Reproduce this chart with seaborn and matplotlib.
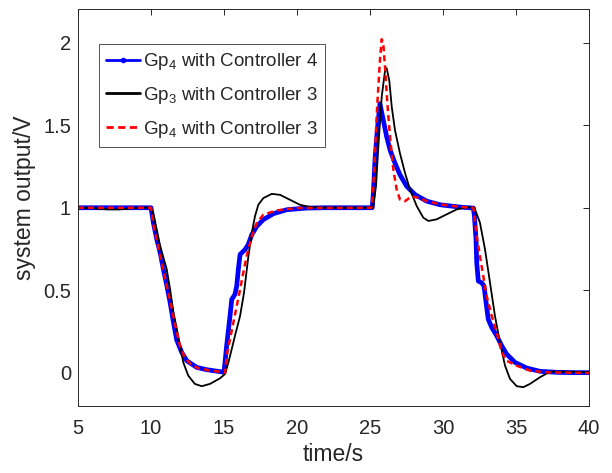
import numpy as np
import pandas as pd
import matplotlib
matplotlib.use("Agg")
import matplotlib.pyplot as plt
from matplotlib.lines import Line2D
import seaborn as sns

# Gp4 with Controller 4
t_gp4_c4 = [5, 6, 7, 8, 9, 10.0, 10.16, 10.39, 10.62, 10.84, 11.08, 11.30, 11.53, 11.76,
            12.10, 12.45, 13.13, 13.8, 14.73, 15.0, 15.18, 15.41, 15.53, 15.75, 15.87,
            15.98, 16.1, 16.44, 16.66, 16.9, 17.24, 17.69, 18.38, 19.3, 20.66, 22, 24,
            25.15, 25.23, 25.34, 25.5, 25.68, 25.91, 26.14, 26.37, 26.71, 27.05, 27.51,
            28.08, 28.88, 29.8, 31.16, 32.08, 32.15, 32.26, 32.31, 32.42, 32.65, 32.81,
            32.95, 33.1, 33.34, 33.68, 34.02, 34.36, 34.93, 35.73, 36.64, 37.79, 39, 40]
y_gp4_c4 = [1, 1, 1, 1, 1, 1.0, 0.91, 0.81, 0.73, 0.63, 0.53, 0.43, 0.31, 0.20,
            0.125, 0.074, 0.034, 0.02, 0.008, 0.005, 0.165, 0.345, 0.445, 0.476, 0.526,
            0.627, 0.717, 0.747, 0.777, 0.837, 0.887, 0.928, 0.964, 0.988, 0.998, 1.0, 1.0,
            1.0, 1.089, 1.29, 1.47, 1.63, 1.53, 1.43, 1.35, 1.27, 1.20, 1.13,
            1.08, 1.04, 1.018, 1.004, 0.998, 0.95, 0.81, 0.667, 0.556, 0.546, 0.526,
            0.426, 0.325, 0.275, 0.225, 0.165, 0.114, 0.064, 0.03, 0.01, 0.004, 0.002, 0.002]

# Gp3 with Controller 3
t_gp3_c3 = [5, 6, 7, 7.8, 8.5, 9.5, 10.0, 10.2, 10.62, 11.07, 11.3, 11.53, 11.87, 12.21,
            12.55, 13.0, 13.47, 14.04, 14.73, 15.07, 15.3, 15.53, 15.75, 16.1, 16.37,
            16.67, 16.9, 17.12, 17.35, 17.69, 18.27, 18.84, 19.52, 20.2, 20.9, 22, 25.2,
            25.41, 25.57, 25.8, 26.03, 26.14, 26.32, 26.49, 26.71, 27.05, 27.4, 27.74,
            28.2, 28.65, 29.0, 29.57, 30.25, 30.94, 31.62, 32.15, 32.53, 32.88, 33.22,
            33.56, 33.9, 34.25, 34.59, 35.05, 35.5, 35.96, 36.64, 37.33, 38.47, 40]
y_gp3_c3 = [1, 0.997, 0.99, 0.99, 0.995, 1.0, 1.0, 0.95, 0.77, 0.63, 0.51, 0.37, 0.22, 0.064,
            -0.016, -0.066, -0.08, -0.066, -0.032, -0.006, 0.064, 0.145, 0.225, 0.345, 0.486,
            0.707, 0.847, 0.948, 1.018, 1.058, 1.084, 1.078, 1.048, 1.018, 1.004, 1.0, 1.0,
            1.13, 1.37, 1.67, 1.83, 1.845, 1.77, 1.61, 1.47, 1.33, 1.21, 1.11,
            1.01, 0.94, 0.92, 0.93, 0.96, 0.99, 1.004, 1.0, 0.91, 0.747, 0.546,
            0.345, 0.185, 0.044, -0.036, -0.08, -0.086, -0.066, -0.026, 0.008, 0.008, 0.005]

# Gp4 with Controller 3
t_gp4_c3 = [5, 10.0, 10.2, 10.5, 10.8, 11.1, 11.4, 11.7, 12.0, 12.3, 12.7, 13.2, 14.0, 15.0,
            15.07, 15.18, 15.41, 15.64, 15.87, 16.1, 16.32, 16.55, 16.9, 17.24, 17.69, 18.6,
            20.0, 25.1, 25.2, 25.34, 25.5, 25.68, 25.8, 25.91, 26.03, 26.19, 26.37, 26.6,
            26.83, 27.05, 27.4, 27.86, 28.3, 28.9, 29.8, 31.2, 32.08, 32.31, 32.53, 32.76,
            32.99, 33.34, 33.68, 34.02, 34.36, 35.05, 35.96, 37.1, 40]
y_gp4_c3 = [1, 1, 0.88, 0.76, 0.64, 0.52, 0.40, 0.27, 0.16, 0.095, 0.055, 0.03, 0.015, 0.005,
            0.0, 0.104, 0.205, 0.305, 0.405, 0.506, 0.607, 0.707, 0.827, 0.907, 0.958, 0.984,
            0.998, 1.0, 1.08, 1.33, 1.63, 1.89, 2.02, 1.99, 1.85, 1.63, 1.43, 1.23,
            1.11, 1.05, 1.04, 1.07, 1.06, 1.04, 1.02, 1.005, 1.0, 0.827, 0.707, 0.586,
            0.466, 0.345, 0.245, 0.125, 0.074, 0.044, 0.014, 0.004, 0.0]

labels = ["Gp$_4$ with Controller 4", "Gp$_3$ with Controller 3", "Gp$_4$ with Controller 3"]
x_ticks = [5, 10, 15, 20, 25, 30, 35, 40]
y_ticks = [0, 0.5, 1, 1.5, 2]
y_tick_labels = ["0", "0.5", "1", "1.5", "2"]

sns.set_theme(style="white")
plt.rcParams["font.family"] = ["Liberation Sans", "DejaVu Sans"]
plt.rcParams["mathtext.fontset"] = "custom"
plt.rcParams["mathtext.rm"] = "Liberation Sans"
plt.rcParams["mathtext.it"] = "Liberation Sans"

fig = plt.figure(figsize=(6.12, 4.73), dpi=100)
ax = fig.add_axes([0.1275, 0.1416, 0.8349, 0.8384])

frames = [
    pd.DataFrame({"t": t_gp4_c4, "y": y_gp4_c4}),
    pd.DataFrame({"t": t_gp3_c3, "y": y_gp3_c3}),
    pd.DataFrame({"t": t_gp4_c3, "y": y_gp4_c3}),
]

red_dash = (0, (2.4, 1.6))

sns.lineplot(data=frames[0], x="t", y="y", ax=ax, color="#0000ff", lw=3.4,
             estimator=None, sort=False, solid_capstyle="round", solid_joinstyle="round")
sns.lineplot(data=frames[1], x="t", y="y", ax=ax, color="black", lw=1.3,
             estimator=None, sort=False)
sns.lineplot(data=frames[2], x="t", y="y", ax=ax, color="#ff0000", lw=1.8,
             estimator=None, sort=False, linestyle=red_dash)

ax.set_xlim(5, 40)
ax.set_ylim(-0.2, 2.2)
ax.set_xticks(x_ticks)
ax.set_xticklabels([str(v) for v in x_ticks])
ax.set_yticks(y_ticks)
ax.set_yticklabels(y_tick_labels)

edge = "#262626"
for s in ax.spines.values():
    s.set_color(edge)
    s.set_linewidth(0.7)
ax.tick_params(direction="in", top=True, right=True, length=4, width=0.7,
               colors=edge, labelsize=14.5, pad=5)
ax.tick_params(axis="x", pad=9)

ax.set_xlabel("time/s", fontsize=16.5, color=edge, labelpad=4)
ax.set_ylabel("system output/V", fontsize=16.5, color=edge)
ax.yaxis.set_label_coords(-0.083, 0.525)

handles = [
    Line2D([], [], color="#0000ff", lw=2.0, marker=".", markersize=6),
    Line2D([], [], color="black", lw=2.0),
    Line2D([], [], color="#ff0000", lw=2.0, linestyle=(0, (2.6, 1.6))),
]
leg = ax.legend(handles, labels, loc="upper left", bbox_to_anchor=(0.041, 0.913),
                borderaxespad=0, fontsize=13.5, frameon=True, fancybox=False,
                handlelength=1.8, handletextpad=0.15, labelspacing=0.68,
                borderpad=0.38)
leg.get_frame().set_edgecolor(edge)
leg.get_frame().set_linewidth(0.7)

fig.savefig("out.png", dpi=100)
